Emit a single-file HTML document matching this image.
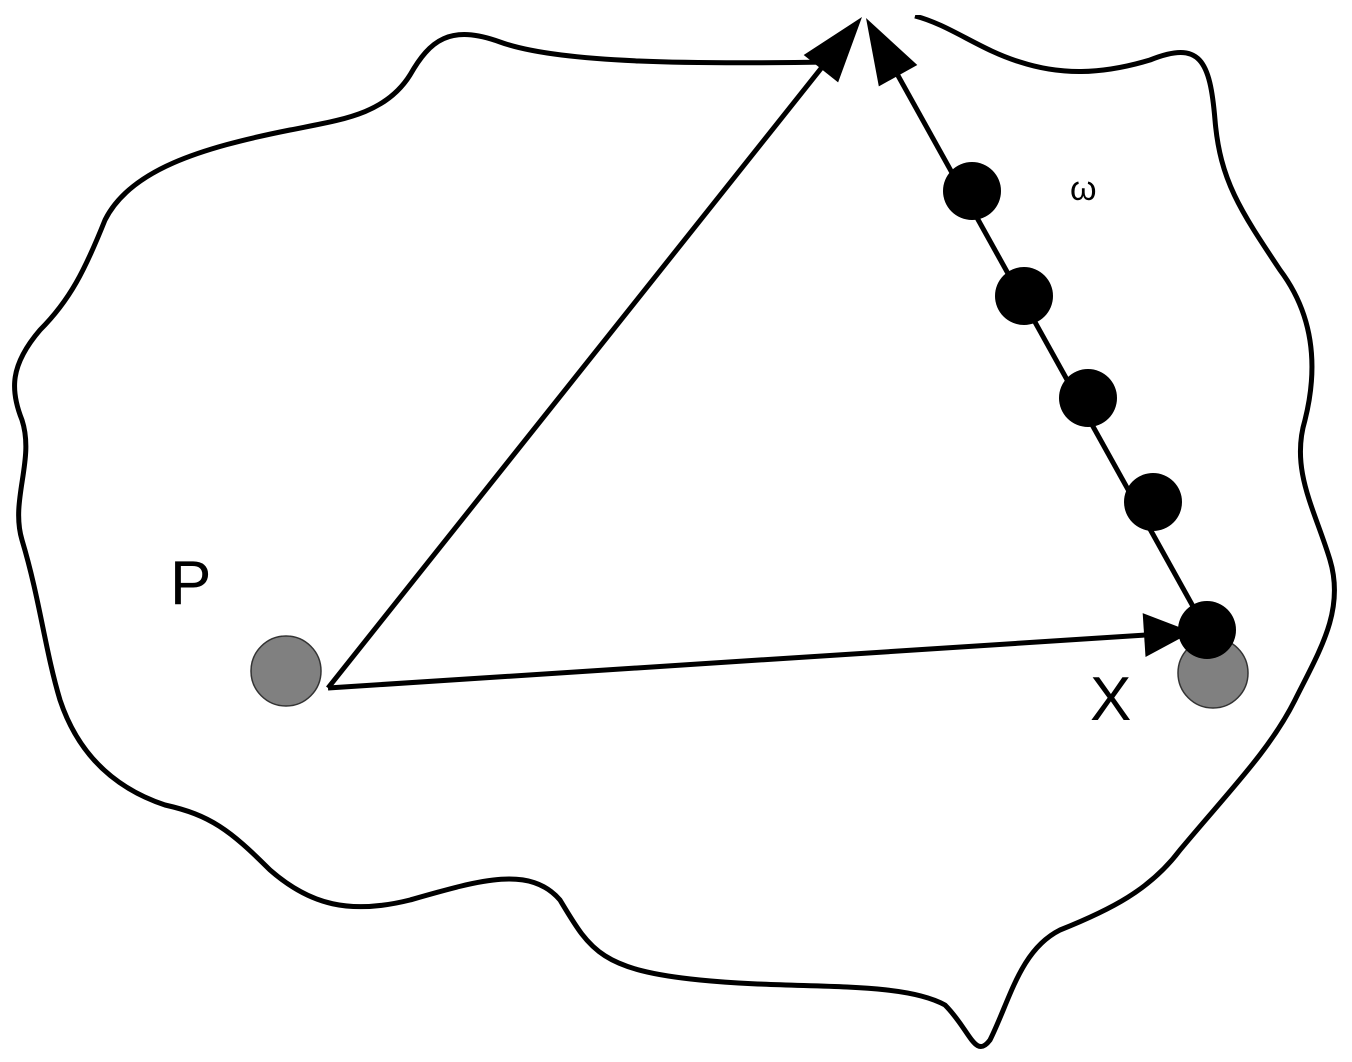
<!DOCTYPE html>
<html><head><meta charset="utf-8"><style>html,body{margin:0;padding:0;background:#fff}svg{display:block}</style></head>
<body>
<svg id="d" width="1352" height="1062" viewBox="0 0 1352 1062" xmlns="http://www.w3.org/2000/svg">
<path fill="none" stroke="#000" stroke-width="5" stroke-linejoin="round"
d="M830,62 C700,64 560,64 500,42 C450,24 430,40 410,75 C385,115 340,120 290,130 C200,148 130,170 105,220 C85,270 70,300 40,330 C10,365 10,390 22,420 C35,460 10,500 22,540 C40,600 45,650 60,700 C80,760 120,790 165,805 C210,815 230,830 270,870 C310,905 350,915 410,900 C480,880 530,865 560,900 C590,950 600,970 700,980 C800,990 900,980 945,1005 C970,1030 975,1060 990,1040 C1010,1000 1020,950 1060,930 C1110,910 1150,890 1180,850 C1230,790 1270,750 1295,700 C1320,650 1345,610 1330,560 C1315,510 1290,470 1305,420 C1320,360 1310,310 1280,270 C1240,210 1220,180 1215,120 C1210,60 1200,40 1150,60 C1100,75 1060,75 1020,62 C980,50 950,25 915,16"/>
<rect x="0" y="0" width="1352" height="15" fill="#fff"/>
<circle cx="286" cy="671" r="35" fill="#808080" stroke="#333" stroke-width="1.5"/>
<circle cx="1213" cy="673" r="35" fill="#808080" stroke="#333" stroke-width="1.5"/>
<g id="arrows"></g>
<circle cx="972" cy="191" r="29" fill="#000"/>
<circle cx="1024" cy="296" r="29" fill="#000"/>
<circle cx="1088" cy="398" r="29" fill="#000"/>
<circle cx="1153" cy="502" r="29" fill="#000"/>
<circle cx="1207" cy="630" r="29" fill="#000"/>
<text x="170" y="604" font-family="Liberation Sans, sans-serif" font-size="62">P</text>
<text x="1090" y="720" font-family="Liberation Sans, sans-serif" font-size="62">X</text>
<text x="1070" y="200" font-family="Liberation Sans, DejaVu Sans, sans-serif" font-size="34">ω</text>
</svg>
<script>
const arrowFrom=[[328,688],[1205,628],[328,688]];
const arrowTo=[[862,17],[866,18],[1192,632]];
const arrowNames=['arrow-p-to-top','arrow-x-to-top','arrow-p-to-x'];
const g=document.getElementById('arrows');
const NS='http://www.w3.org/2000/svg';
for(let i=0;i<arrowFrom.length;i++){
  const [x1,y1]=arrowFrom[i],[x2,y2]=arrowTo[i];
  const dx=x2-x1,dy=y2-y1,L=Math.hypot(dx,dy),ux=dx/L,uy=dy/L,nx=-uy,ny=ux;
  const hl=i===2?48:66,hw=22;
  const bx=x2-hl*ux,by=y2-hl*uy;
  const ln=document.createElementNS(NS,'line');
  
  
  ln.setAttribute('x1',x1);ln.setAttribute('y1',y1);ln.setAttribute('x2',bx+5*ux);ln.setAttribute('y2',by+5*uy);
  ln.setAttribute('stroke','#000');ln.setAttribute('stroke-width','5');
  g.appendChild(ln);
  const hd=document.createElementNS(NS,'polygon');
  
  
  hd.setAttribute('points',`${x2},${y2} ${bx+hw*nx},${by+hw*ny} ${bx-hw*nx},${by-hw*ny}`);
  hd.setAttribute('fill','#000');
  g.appendChild(hd);
}
</script>
</body></html>
